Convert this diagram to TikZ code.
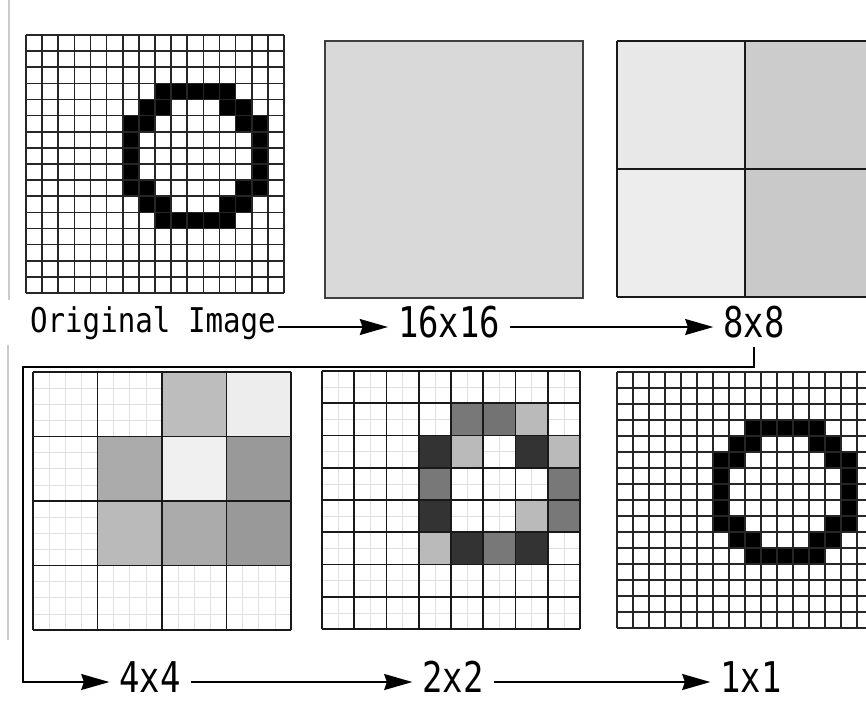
\documentclass[tikz,border=0pt]{standalone}
\usepackage{fontspec}
\usepackage{tikz}
\usetikzlibrary{arrows.meta}
\newfontfamily\origfont[FakeStretch=0.855]{DejaVu Sans Mono}
\newfontfamily\numfont[FakeStretch=0.80]{DejaVu Sans Mono}

\begin{document}
\begin{tikzpicture}[x=0.02cm,y=0.02cm,yscale=-1,
  pixgrid/.style={draw=black!85,line width=0.9pt},
  faintgrid/.style={draw=black!12,line width=0.4pt},
  blockgrid/.style={draw=black!90,line width=1pt},
  ring/.style={fill=black},
  origlab/.style={font={\origfont\fontsize{19.4pt}{21pt}\selectfont},inner xsep=1pt,inner ysep=0pt,text height=14.7pt,text depth=7.9pt},
  numlab/.style={font={\numfont\fontsize{24.1pt}{26pt}\selectfont},inner xsep=5.5pt,inner ysep=0pt,text height=17.6pt,text depth=5.1pt},
  arr/.style={-{Stealth[length=16pt,width=9pt,inset=1.5pt]},line width=1.4pt}]
\clip (0,0) rectangle (866,701);
\fill[white] (0,0) rectangle (866,701);
\draw[black!20,line width=0.8pt] (9,0) -- (9,300);
\draw[black!20,line width=0.8pt] (8,345) -- (8,640);
% original image
\begin{scope}[shift={(26,35)},scale=16.125]
  \fill[ring] (8,3) rectangle (13,4);
  \fill[ring] (7,4) rectangle (9,5);
  \fill[ring] (12,4) rectangle (14,5);
  \fill[ring] (6,5) rectangle (8,6);
  \fill[ring] (13,5) rectangle (15,6);
  \fill[ring] (6,6) rectangle (7,9);
  \fill[ring] (14,6) rectangle (15,9);
  \fill[ring] (6,9) rectangle (8,10);
  \fill[ring] (13,9) rectangle (15,10);
  \fill[ring] (7,10) rectangle (9,11);
  \fill[ring] (12,10) rectangle (14,11);
  \fill[ring] (8,11) rectangle (13,12);
  \foreach \k in {0,...,16} {
    \draw[pixgrid] (\k,0) -- (\k,16);
    \draw[pixgrid] (0,\k) -- (16,\k);
  }
\end{scope}
% 16x16
\draw[fill=black!15,draw=black!75,line width=0.9pt] (325,41) rectangle (583,298);
% 8x8
\begin{scope}[shift={(617,41)},scale=16]
  \fill[black!9] (0,0) rectangle (8,8);
  \fill[black!20] (8,0) rectangle (16,8);
  \fill[black!7] (0,8) rectangle (8,16);
  \fill[black!21] (8,8) rectangle (16,16);
  \foreach \k in {0,8,16} {
    \draw[blockgrid] (\k,0) -- (\k,16);
    \draw[blockgrid] (0,\k) -- (16,\k);
  }
\end{scope}
% 4x4
\begin{scope}[shift={(33,372)},scale=16.125]
  \foreach \k in {0,...,16} {
    \draw[faintgrid] (\k,0) -- (\k,16);
    \draw[faintgrid] (0,\k) -- (16,\k);
  }
  \fill[black!26] (8,0) rectangle (12,4);
  \fill[black!7] (12,0) rectangle (16,4);
  \fill[black!33] (4,4) rectangle (8,8);
  \fill[black!6] (8,4) rectangle (12,8);
  \fill[black!40] (12,4) rectangle (16,8);
  \fill[black!27] (4,8) rectangle (8,12);
  \fill[black!33] (8,8) rectangle (12,12);
  \fill[black!40] (12,8) rectangle (16,12);
  \foreach \k in {0,4,...,16} {
    \draw[blockgrid] (\k,0) -- (\k,16);
    \draw[blockgrid] (0,\k) -- (16,\k);
  }
\end{scope}
% 2x2
\begin{scope}[shift={(322,371)},scale=16.125]
  \foreach \k in {0,...,16} {
    \draw[faintgrid] (\k,0) -- (\k,16);
    \draw[faintgrid] (0,\k) -- (16,\k);
  }
  \fill[black!53] (8,2) rectangle (10,4);
  \fill[black!55] (10,2) rectangle (12,4);
  \fill[black!27] (12,2) rectangle (14,4);
  \fill[black!80] (6,4) rectangle (8,6);
  \fill[black!27] (8,4) rectangle (10,6);
  \fill[black!80] (12,4) rectangle (14,6);
  \fill[black!27] (14,4) rectangle (16,6);
  \fill[black!53] (6,6) rectangle (8,8);
  \fill[black!53] (14,6) rectangle (16,8);
  \fill[black!80] (6,8) rectangle (8,10);
  \fill[black!27] (12,8) rectangle (14,10);
  \fill[black!53] (14,8) rectangle (16,10);
  \fill[black!27] (6,10) rectangle (8,12);
  \fill[black!80] (8,10) rectangle (10,12);
  \fill[black!53] (10,10) rectangle (12,12);
  \fill[black!80] (12,10) rectangle (14,12);
  \foreach \k in {0,2,...,16} {
    \draw[blockgrid,line width=0.9pt] (\k,0) -- (\k,16);
    \draw[blockgrid,line width=0.9pt] (0,\k) -- (16,\k);
  }
\end{scope}
% 1x1
\begin{scope}[shift={(617,372)},scale=16]
  \fill[ring] (8,3) rectangle (13,4);
  \fill[ring] (7,4) rectangle (9,5);
  \fill[ring] (12,4) rectangle (14,5);
  \fill[ring] (6,5) rectangle (8,6);
  \fill[ring] (13,5) rectangle (15,6);
  \fill[ring] (6,6) rectangle (7,9);
  \fill[ring] (14,6) rectangle (15,9);
  \fill[ring] (6,9) rectangle (8,10);
  \fill[ring] (13,9) rectangle (15,10);
  \fill[ring] (7,10) rectangle (9,11);
  \fill[ring] (12,10) rectangle (14,11);
  \fill[ring] (8,11) rectangle (13,12);
  \foreach \k in {0,...,16} {
    \draw[pixgrid] (\k,0) -- (\k,16);
    \draw[pixgrid] (0,\k) -- (16,\k);
  }
\end{scope}
% labels
\node[origlab,anchor=west] (orig) at (28,327) {Original Image};
\node[numlab] (n16) at (449,327) {16x16};
\node[numlab] (n8) at (754,327) {8x8};
\node[numlab] (n4) at (150,682) {4x4};
\node[numlab] (n2) at (453,682) {2x2};
\node[numlab] (n1) at (751,682) {1x1};
\coordinate (bend) at (23,367);
\draw[arr] (orig) -- (n16);
\draw[arr] (n16) -- (n8);
\draw[arr,line width=1.2pt] (n8.south) |- (bend) |- (n4.west);
\draw[arr] (n4) -- (n2);
\draw[arr] (n2) -- (n1);
\end{tikzpicture}
\end{document}
